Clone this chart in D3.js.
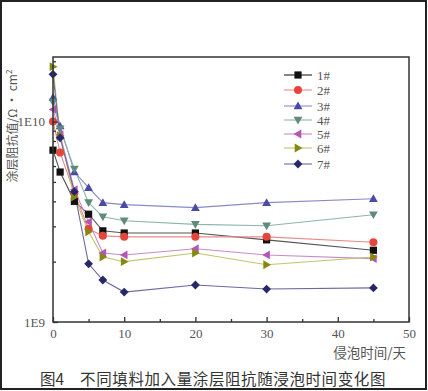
<!DOCTYPE html>
<html><head><meta charset="utf-8">
<script src="https://cdn.jsdelivr.net/npm/d3@7"></script>
<style>body{margin:0;background:#fff}svg{display:block}</style>
</head><body>
<script>
const days = [0, 1, 3, 5, 7, 10, 20, 30, 45];
const seriesNames = ["1#", "2#", "3#", "4#", "5#", "6#", "7#"];
const s1 = [7.2e9, 5.6e9, 4.0e9, 3.45e9, 2.85e9, 2.78e9, 2.78e9, 2.57e9, 2.28e9];
const s2 = [1.0e10, 7.0e9, 4.4e9, 2.92e9, 2.69e9, 2.66e9, 2.66e9, 2.66e9, 2.5e9];
const s3 = [1.32e10, 9.5e9, 5.6e9, 4.68e9, 3.94e9, 3.85e9, 3.72e9, 3.94e9, 4.12e9];
const s4 = [1.25e10, 9.2e9, 5.8e9, 3.94e9, 3.35e9, 3.2e9, 3.07e9, 3.02e9, 3.43e9];
const s5 = [1.15e10, 8.6e9, 4.57e9, 3.16e9, 2.21e9, 2.16e9, 2.32e9, 2.16e9, 2.07e9];
const s6 = [1.88e10, 8.5e9, 4.2e9, 2.82e9, 2.11e9, 2.0e9, 2.21e9, 1.93e9, 2.11e9];
const s7 = [1.72e10, 8.3e9, 4.47e9, 1.95e9, 1.62e9, 1.41e9, 1.53e9, 1.46e9, 1.48e9];
const xTicks = [0, 10, 20, 30, 40, 50];
const xMinorTicks = [5, 15, 25, 35, 45];
const yTicks = [1e9, 1e10];
const yTickLabels = ["1E9", "1E10"];
const yMinorTicks = [2e9,3e9,4e9,5e9,6e9,7e9,8e9,9e9,2e10];
const markerColors = ["#111111", "#e6453c", "#4b4aa6", "#5f8a7c", "#b457b4", "#86880f", "#27286a"];
const lineColors = ["#555555", "#e98a8a", "#8a8ac8", "#8fb5a8", "#c98ac9", "#c2c46a", "#6a6aa0"];
const symbols = ["square", "circle", "triangle", "triangleDown", "triangleLeft", "triangleRight", "diamond"];
const allSeries = [s1, s2, s3, s4, s5, s6, s7];

const W = 428, H = 391;
const svg = d3.select("body").append("svg").attr("width", W).attr("height", H);
svg.append("rect").attr("x", 1).attr("y", 1).attr("width", W - 3).attr("height", H - 3)
  .attr("fill", "#fff").attr("stroke", "#222").attr("stroke-width", 2);

const x = d3.scaleLinear().domain([0, 50]).range([53, 409]);
const y = d3.scaleLog().domain([1e9, 2.1e10]).range([322, 57]);
const axisColor = "#333";
const serif = "'Liberation Serif','DejaVu Serif',serif";

function marker(g, type, cx, cy, color) {
  const r = 3.6;
  let el;
  if (type === "square") el = g.append("rect").attr("x", cx - r).attr("y", cy - r).attr("width", 2*r).attr("height", 2*r);
  else if (type === "circle") el = g.append("circle").attr("cx", cx).attr("cy", cy).attr("r", r + 0.4);
  else {
    let pts;
    const a = r + 0.8;
    if (type === "triangle") pts = [[0,-a],[a,a*0.75],[-a,a*0.75]];
    else if (type === "triangleDown") pts = [[0,a],[a,-a*0.75],[-a,-a*0.75]];
    else if (type === "triangleLeft") pts = [[-a,0],[a*0.75,-a],[a*0.75,a]];
    else if (type === "triangleRight") pts = [[a,0],[-a*0.75,-a],[-a*0.75,a]];
    else pts = [[0,-a],[a,0],[0,a],[-a,0]];
    el = g.append("polygon").attr("points", pts.map(p => (cx+p[0]) + "," + (cy+p[1])).join(" "));
  }
  el.attr("fill", color);
}

// series
const line = d3.line().x(d => x(d[0])).y(d => y(d[1]));
allSeries.forEach((s, i) => {
  const pts = days.map((d, j) => [d, s[j]]);
  svg.append("path").attr("d", line(pts)).attr("fill", "none")
    .attr("stroke", lineColors[i]).attr("stroke-width", 1.1);
});
allSeries.forEach((s, i) => {
  const g = svg.append("g");
  days.forEach((d, j) => marker(g, symbols[i], x(d), y(s[j]), markerColors[i]));
});

// frame
svg.append("rect").attr("x", 53).attr("y", 57).attr("width", 356).attr("height", 265)
  .attr("fill", "none").attr("stroke", axisColor).attr("stroke-width", 1.5);

// x axis
const xAxis = svg.append("g").attr("transform", "translate(0,322)")
  .call(d3.axisBottom(x).tickValues(xTicks).tickSize(-5).tickPadding(7).tickFormat(d3.format("d")));
xAxis.select(".domain").remove();
xAxis.selectAll("line").attr("stroke", axisColor).attr("stroke-width", 1.3);
xAxis.selectAll("text").attr("font-family", serif).attr("font-size", 13).attr("fill", "#555");
svg.append("g").attr("transform", "translate(0,322)")
  .call(d3.axisBottom(x).tickValues(xMinorTicks).tickSize(-3).tickFormat(""))
  .call(g => g.select(".domain").remove())
  .selectAll("line").attr("stroke", axisColor).attr("stroke-width", 1.3);

// y axis
const yAxis = svg.append("g").attr("transform", "translate(53,0)")
  .call(d3.axisLeft(y).tickValues(yTicks).tickSize(-5).tickPadding(8).tickFormat((d, i) => yTickLabels[i]));
yAxis.select(".domain").remove();
yAxis.selectAll("line").attr("stroke", axisColor).attr("stroke-width", 1.3);
yAxis.selectAll("text").attr("font-family", serif).attr("font-size", 13).attr("fill", "#555");
svg.append("g").attr("transform", "translate(53,0)")
  .call(d3.axisLeft(y).tickValues(yMinorTicks).tickSize(-3).tickFormat(""))
  .call(g => g.select(".domain").remove())
  .selectAll("line").attr("stroke", axisColor).attr("stroke-width", 1.3);

// axis titles
const yt = svg.append("text").attr("transform", "translate(17,126) rotate(-90)")
  .attr("text-anchor", "middle").attr("font-family", "'Noto Sans CJK SC',sans-serif")
  .attr("font-size", 12).attr("fill", "#555");
yt.append("tspan").text("涂层阻抗值/Ω · cm");
yt.append("tspan").attr("dy", -5).attr("font-size", 8).text("2");

svg.append("text").attr("x", 406).attr("y", 358).attr("text-anchor", "end")
  .attr("font-family", "'Noto Sans CJK SC',sans-serif").attr("font-size", 13.5).attr("fill", "#555")
  .text("侵泡时间/天");

svg.append("text").attr("x", 40).attr("y", 385)
  .attr("font-family", "'Noto Sans CJK SC',sans-serif").attr("font-size", 15.5)
  .attr("fill", "#333").text("图4");
svg.append("text").attr("x", 386).attr("y", 385).attr("text-anchor", "end")
  .attr("font-family", "'Noto Sans CJK SC',sans-serif").attr("font-size", 15.5)
  .attr("letter-spacing", 0.6).attr("fill", "#333")
  .text("不同填料加入量涂层阻抗随浸泡时间变化图");

// legend
const legY = [75, 90, 106, 120, 134, 148, 164];
seriesNames.forEach((n, i) => {
  const g = svg.append("g");
  g.append("line").attr("x1", 284).attr("x2", 312).attr("y1", legY[i]).attr("y2", legY[i])
    .attr("stroke", i === 0 ? "#222" : lineColors[i]).attr("stroke-width", 1.1);
  marker(g, symbols[i], 298, legY[i], markerColors[i]);
  g.append("text").attr("x", 317).attr("y", legY[i] + 4.5)
    .attr("font-family", serif).attr("font-size", 13).attr("fill", "#555").text(n);
});
</script>
</body></html>
